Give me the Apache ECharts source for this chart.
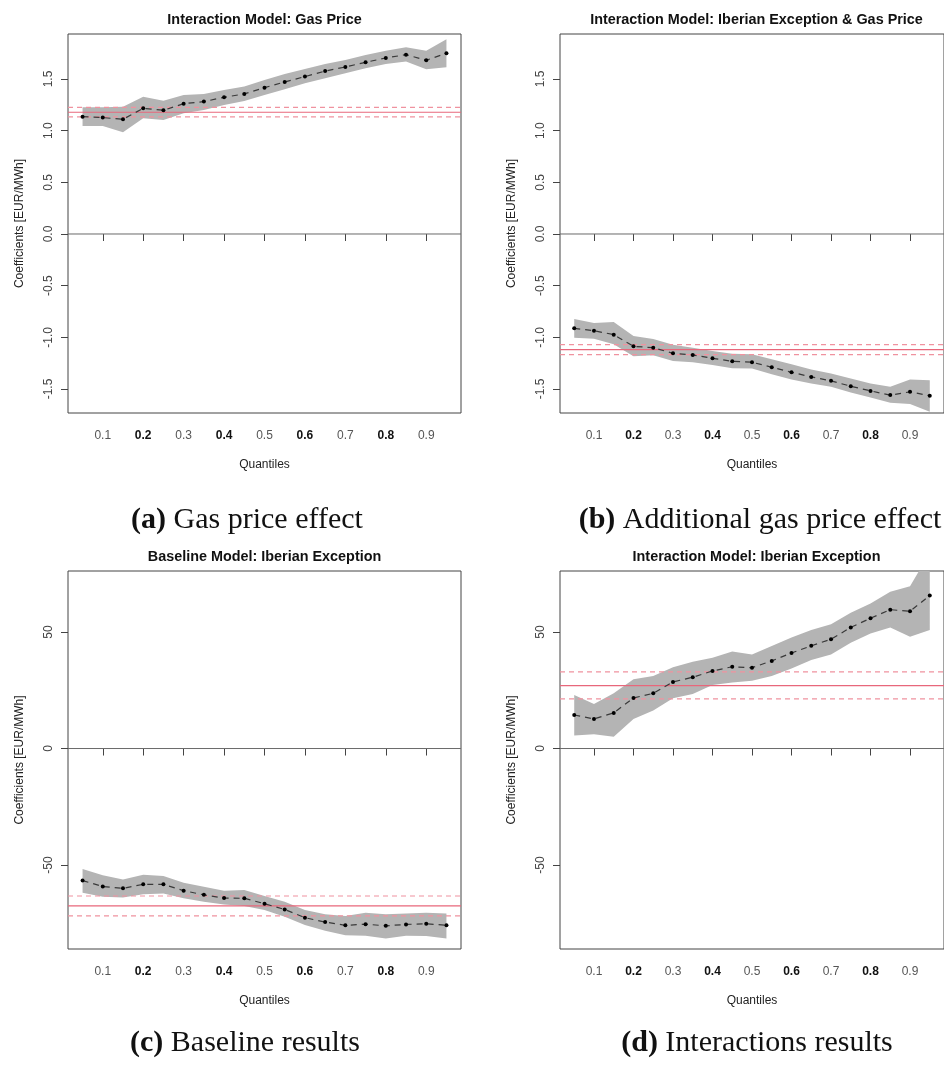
<!DOCTYPE html>
<html>
<head>
<meta charset="utf-8">
<script src="https://cdn.jsdelivr.net/npm/echarts@6/dist/echarts.min.js"></script>
<style>
  html, body { margin: 0; padding: 0; background: #fff; overflow: hidden; }
  #chart { width: 944px; height: 1068px; }
</style>
</head>
<body>
<div id="chart"></div>
<script>
// Quantile levels and axis ticks
const quantiles = [0.05, 0.10, 0.15, 0.20, 0.25, 0.30, 0.35, 0.40, 0.45, 0.50,
                   0.55, 0.60, 0.65, 0.70, 0.75, 0.80, 0.85, 0.90, 0.95];
const xTicks = [0.1, 0.2, 0.3, 0.4, 0.5, 0.6, 0.7, 0.8, 0.9];
const yTicksGas = [-1.5, -1.0, -0.5, 0.0, 0.5, 1.0, 1.5];
const yTicksIber = [-50, 0, 50];

// (a) Interaction model: gas price
const gasEst  = [1.135, 1.126, 1.110, 1.216, 1.197, 1.261, 1.281, 1.323, 1.355, 1.416,
                 1.471, 1.523, 1.577, 1.616, 1.661, 1.703, 1.735, 1.681, 1.748];
const gasLow  = [1.045, 1.045, 0.984, 1.119, 1.103, 1.168, 1.200, 1.248, 1.287, 1.345,
                 1.400, 1.458, 1.506, 1.555, 1.603, 1.645, 1.668, 1.594, 1.613];
const gasHigh = [1.226, 1.226, 1.232, 1.329, 1.290, 1.345, 1.355, 1.394, 1.426, 1.490,
                 1.548, 1.597, 1.645, 1.684, 1.732, 1.774, 1.806, 1.774, 1.884];
const gasOls  = [1.178, 1.134, 1.225];          // estimate, lower, upper

// (b) Interaction model: Iberian exception x gas price
const ixgEst  = [-0.913, -0.936, -0.974, -1.087, -1.100, -1.154, -1.170, -1.203, -1.232, -1.241,
                 -1.289, -1.338, -1.383, -1.421, -1.473, -1.518, -1.559, -1.527, -1.566];
const ixgLow  = [-1.003, -1.013, -1.068, -1.183, -1.174, -1.228, -1.241, -1.267, -1.299, -1.302,
                 -1.357, -1.408, -1.447, -1.479, -1.534, -1.582, -1.633, -1.646, -1.720];
const ixgHigh = [-0.823, -0.862, -0.852, -0.987, -1.016, -1.071, -1.100, -1.132, -1.158, -1.164,
                 -1.212, -1.260, -1.312, -1.350, -1.399, -1.447, -1.479, -1.408, -1.415];
const ixgOls  = [-1.119, -1.167, -1.071];

// (c) Baseline model: Iberian exception
const baseEst  = [-56.7, -59.2, -60.0, -58.3, -58.3, -61.0, -62.8, -64.2, -64.3, -66.6,
                  -69.1, -72.6, -74.5, -75.9, -75.4, -76.1, -75.5, -75.2, -75.9];
const baseLow  = [-61.9, -63.6, -63.9, -62.5, -62.2, -64.3, -65.8, -66.9, -67.6, -69.3,
                  -72.2, -75.8, -78.2, -80.1, -80.4, -81.5, -80.4, -80.5, -81.5];
const baseHigh = [-51.7, -54.4, -56.2, -54.2, -54.7, -57.6, -59.3, -61.0, -60.7, -63.3,
                  -65.8, -69.3, -71.1, -71.9, -70.5, -71.1, -70.8, -70.5, -70.8];
const baseOls  = [-67.5, -71.8, -63.3];

// (d) Interaction model: Iberian exception
const intEst  = [14.4, 12.7, 15.3, 21.7, 23.7, 28.6, 30.6, 33.3, 35.1, 34.7,
                 37.6, 41.0, 44.1, 46.9, 52.0, 55.9, 59.6, 58.9, 65.7];
const intLow  = [5.6, 6.1, 5.1, 12.7, 16.3, 21.6, 23.4, 27.3, 28.3, 29.1,
                 31.1, 34.4, 38.0, 40.4, 45.4, 49.4, 52.0, 48.0, 50.9];
const intHigh = [23.0, 19.1, 23.7, 29.7, 31.1, 34.9, 37.3, 39.0, 41.6, 40.4,
                 44.0, 47.7, 50.9, 53.3, 58.3, 62.3, 67.3, 69.7, 84.0];
const intOls  = [27.0, 21.3, 32.9];

const titles = [
  'Interaction Model: Gas Price',
  'Interaction Model: Iberian Exception & Gas Price',
  'Baseline Model: Iberian Exception',
  'Interaction Model: Iberian Exception'
];
const captions = [
  ['(a)', 'Gas price effect'],
  ['(b)', 'Additional gas price effect'],
  ['(c)', 'Baseline results'],
  ['(d)', 'Interactions results']
];

const SANS = '"Liberation Sans", Arial, Helvetica, sans-serif';
const SERIF = '"Liberation Serif", "Times New Roman", serif';

// plot regions (box) of the four panels
const boxes = [
  { left: 68,  top: 34,  width: 393, height: 379 },
  { left: 560, top: 34,  width: 393, height: 379 },
  { left: 68,  top: 571, width: 393, height: 378 },
  { left: 560, top: 571, width: 393, height: 378 }
];
const X_MIN = 0.014, X_MAX = 0.986;
const yRanges = [
  [-1.732, 1.935], [-1.732, 1.935], [-86.05, 76.2], [-86.05, 76.2]
];
const yTickSets = [yTicksGas, yTicksGas, yTicksIber, yTicksIber];

const panels = [
  [gasEst, gasLow, gasHigh, gasOls],
  [ixgEst, ixgLow, ixgHigh, ixgOls],
  [baseEst, baseLow, baseHigh, baseOls],
  [intEst, intLow, intHigh, intOls]
];

const grid = boxes.map(b => ({
  left: b.left, top: b.top, width: b.width, height: b.height,
  show: true, borderColor: '#444', borderWidth: 1, backgroundColor: 'transparent'
}));

const xAxis = boxes.map((b, i) => ({
  type: 'value', gridIndex: i, min: X_MIN, max: X_MAX,
  name: 'Quantiles', nameLocation: 'middle', nameGap: 46,
  nameTextStyle: { fontFamily: SANS, fontSize: 12, color: '#222' },
  axisLine: { show: false },
  splitLine: { show: false },
  axisTick: { show: true, length: 7, lineStyle: { color: '#444' }, customValues: xTicks },
  axisLabel: {
    margin: 17, fontFamily: SANS, fontSize: 12, color: '#555',
    customValues: xTicks,
    formatter: v => {
      const s = v.toFixed(1);
      return (Math.round(v * 10) % 2 === 0) ? '{d|' + s + '}' : s;
    },
    rich: { d: { fontFamily: SANS, fontSize: 12, color: '#111', fontWeight: 'bold' } }
  }
}));

const yAxis = boxes.map((b, i) => ({
  type: 'value', gridIndex: i, min: yRanges[i][0], max: yRanges[i][1],
  name: 'Coefficients [EUR/MWh]', nameLocation: 'middle', nameGap: 42,
  nameTextStyle: { fontFamily: SANS, fontSize: 12, color: '#222' },
  axisLine: { show: false },
  splitLine: { show: false },
  axisTick: { show: true, length: 7, lineStyle: { color: '#444' }, customValues: yTickSets[i] },
  axisLabel: {
    rotate: 90, margin: 13, fontFamily: SANS, fontSize: 12, color: '#444',
    customValues: yTickSets[i],
    formatter: v => (i < 2 ? v.toFixed(1) : String(Math.round(v)))
  }
}));

// horizontal reference line across the whole plot width
function hLine(i, value, color, width, type, z) {
  return {
    type: 'line', xAxisIndex: i, yAxisIndex: i,
    data: [[X_MIN, value], [X_MAX, value]],
    symbol: 'none', silent: true, z: z,
    lineStyle: { color: color, width: width, type: type }
  };
}

const series = [];
panels.forEach((p, i) => {
  const [est, low, high, ols] = p;
  // confidence band as a filled polygon
  series.push({
    type: 'custom', xAxisIndex: i, yAxisIndex: i,
    clip: true, silent: true, z: 1,
    data: [0],
    renderItem: (params, api) => {
      const pts = [];
      quantiles.forEach((q, k) => pts.push(api.coord([q, high[k]])));
      for (let k = quantiles.length - 1; k >= 0; k--) pts.push(api.coord([quantiles[k], low[k]]));
      return { type: 'polygon', shape: { points: pts }, style: { fill: '#b4b4b4' } };
    }
  });
  series.push(hLine(i, 0, '#6a6a6a', 1, 'solid', 2));
  series.push(hLine(i, ols[0], '#e8677b', 1.2, 'solid', 2));
  series.push(hLine(i, ols[1], '#f0929f', 1.2, [5, 4], 2));
  series.push(hLine(i, ols[2], '#f0929f', 1.2, [5, 4], 2));
  // quantile regression estimates
  series.push({
    type: 'line', xAxisIndex: i, yAxisIndex: i,
    data: quantiles.map((q, k) => [q, est[k]]),
    symbol: 'circle', symbolSize: 4,
    itemStyle: { color: '#000' },
    lineStyle: { color: '#3a3a3a', width: 1.2, type: [6, 5] },
    silent: true, z: 3
  });
});

const graphic = [];
boxes.forEach((b, i) => {
  graphic.push({
    type: 'text', x: b.left + b.width / 2, y: b.top - 14,
    style: {
      text: titles[i], fontFamily: SANS, fontSize: 14.4, fontWeight: 'bold',
      fill: '#111', textAlign: 'center', textVerticalAlign: 'middle'
    }
  });
});
const capPos = [[247, 520], [760, 520], [245, 1043], [757, 1043]];
capPos.forEach((c, i) => {
  graphic.push({
    type: 'text', x: c[0], y: c[1],
    style: {
      text: '{b|' + captions[i][0] + '} ' + captions[i][1],
      fontFamily: SERIF, fontSize: 30, fill: '#111',
      textAlign: 'center', textVerticalAlign: 'middle',
      rich: { b: { fontFamily: SERIF, fontSize: 30, fontWeight: 'bold', fill: '#111' } }
    }
  });
});

const chart = echarts.init(document.getElementById('chart'), null, { renderer: 'canvas' });
chart.setOption({
  animation: false,
  backgroundColor: '#fff',
  grid, xAxis, yAxis, series, graphic
});
</script>
</body>
</html>
